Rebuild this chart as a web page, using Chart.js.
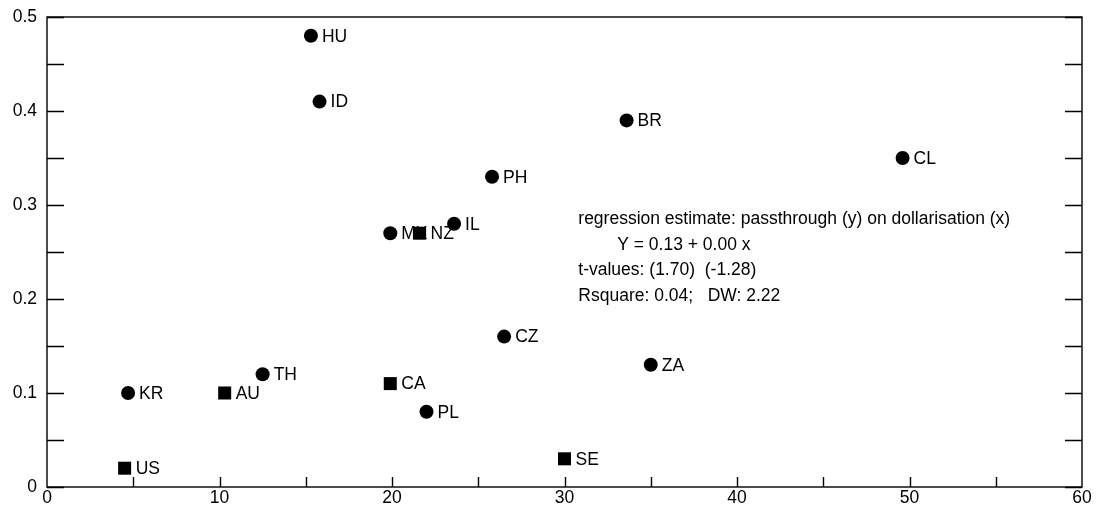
<!DOCTYPE html>
<html>
<head>
<meta charset="utf-8">
<script src="https://cdn.jsdelivr.net/npm/chart.js@4/dist/chart.umd.min.js"></script>
<style>
  html, body { margin: 0; padding: 0; background: #fff; }
  #wrap { width: 1096px; height: 511px; }
</style>
</head>
<body>
<div id="wrap"><canvas id="scatter"></canvas></div>
<script>
// circles
const circleCountries = ['HU', 'ID', 'BR', 'CL', 'PH', 'IL', 'MX', 'CZ', 'ZA', 'TH', 'KR', 'PL'];
const circleDollarisation = [15.3, 15.8, 33.6, 49.6, 25.8, 23.6, 19.9, 26.5, 35.0, 12.5, 4.7, 22.0];
const circlePassthrough = [0.48, 0.41, 0.39, 0.35, 0.33, 0.28, 0.27, 0.16, 0.13, 0.12, 0.10, 0.08];

// squares
const squareCountries = ['NZ', 'CA', 'AU', 'SE', 'US'];
const squareDollarisation = [21.6, 19.9, 10.3, 30.0, 4.5];
const squarePassthrough = [0.27, 0.11, 0.10, 0.03, 0.02];

const xTicks = [0, 10, 20, 30, 40, 50, 60];
const yTicks = [0, 0.1, 0.2, 0.3, 0.4, 0.5];

const regressionNote = [
  'regression estimate: passthrough (y) on dollarisation (x)',
  '        Y = 0.13 + 0.00 x',
  't-values: (1.70)  (-1.28)',
  'Rsquare: 0.04;   DW: 2.22'
];

const FAMILY = '"Liberation Sans", Arial, sans-serif';
const FONT = '17.5px ' + FAMILY;

function toPoints(xs, ys) {
  return xs.map((x, i) => ({ x: x, y: ys[i] }));
}

// frame with inward ticks, like the original plot
const framePlugin = {
  id: 'frame',
  afterDraw(chart) {
    const { ctx, chartArea: a, scales } = chart;
    ctx.save();
    ctx.strokeStyle = '#000';
    ctx.lineWidth = 1.4;
    ctx.strokeRect(a.left, a.top, a.right - a.left, a.bottom - a.top);
    ctx.beginPath();
    for (let v = 0; v <= 0.5001; v += 0.05) {
      const y = Math.round(scales.y.getPixelForValue(v)) + 0.5;
      ctx.moveTo(a.left, y); ctx.lineTo(a.left + 17, y);
      ctx.moveTo(a.right, y); ctx.lineTo(a.right - 17, y);
    }
    for (let v = 5; v < 60; v += 5) {
      const x = Math.round(scales.x.getPixelForValue(v)) + 0.5;
      ctx.moveTo(x, a.bottom); ctx.lineTo(x, a.bottom - 10);
    }
    ctx.stroke();
    ctx.restore();
  }
};

// country codes next to each marker, and the regression text
const labelPlugin = {
  id: 'pointLabels',
  afterDatasetsDraw(chart) {
    const { ctx, scales } = chart;
    ctx.save();
    ctx.font = FONT;
    ctx.fillStyle = '#000';
    ctx.textBaseline = 'middle';
    ctx.textAlign = 'left';
    chart.data.datasets.forEach((ds, di) => {
      chart.getDatasetMeta(di).data.forEach((pt, i) => {
        ctx.fillText(ds.codes[i], pt.x + 11, pt.y + 1);
      });
    });
    const nx = scales.x.getPixelForValue(30.8);
    const ny = scales.y.getPixelForValue(0.285);
    regressionNote.forEach((line, i) => {
      ctx.fillText(line, nx, ny + i * 25.7);
    });
    ctx.restore();
  }
};

new Chart(document.getElementById('scatter'), {
  type: 'scatter',
  data: {
    datasets: [
      {
        label: 'circles',
        codes: circleCountries,
        data: toPoints(circleDollarisation, circlePassthrough),
        pointStyle: 'circle',
        pointRadius: 7,
        pointHoverRadius: 7,
        backgroundColor: '#000',
        borderColor: '#000',
        borderWidth: 0
      },
      {
        label: 'squares',
        codes: squareCountries,
        data: toPoints(squareDollarisation, squarePassthrough),
        pointStyle: 'rect',
        pointRadius: 9.2,
        pointHoverRadius: 9.2,
        backgroundColor: '#000',
        borderColor: '#000',
        borderWidth: 0
      }
    ]
  },
  options: {
    responsive: true,
    maintainAspectRatio: false,
    animation: false,
    layout: { padding: { top: 17, right: 14, left: 0, bottom: 0 } },
    plugins: {
      legend: { display: false },
      tooltip: { enabled: false }
    },
    scales: {
      x: {
        type: 'linear',
        min: 0,
        max: 60,
        border: { display: false },
        grid: { display: false, drawTicks: false },
        afterBuildTicks: (s) => { s.ticks = xTicks.map((v) => ({ value: v })); },
        afterFit: (s) => { s.height = 24; s.paddingLeft = 0; s.paddingRight = 0; },
        ticks: { color: '#000', font: { family: FAMILY, size: 17.5 }, padding: 1, maxRotation: 0 }
      },
      y: {
        type: 'linear',
        min: 0,
        max: 0.5,
        border: { display: false },
        grid: { display: false, drawTicks: false },
        afterBuildTicks: (s) => { s.ticks = yTicks.map((v) => ({ value: v })); },
        afterFit: (s) => { s.width = 47; s.paddingTop = 0; s.paddingBottom = 0; },
        ticks: {
          color: '#000',
          font: { family: FAMILY, size: 17.5 },
          padding: 10,
          callback: (v) => (v === 0 ? '0' : String(Math.round(v * 10) / 10))
        }
      }
    }
  },
  plugins: [framePlugin, labelPlugin]
});
</script>
</body>
</html>
